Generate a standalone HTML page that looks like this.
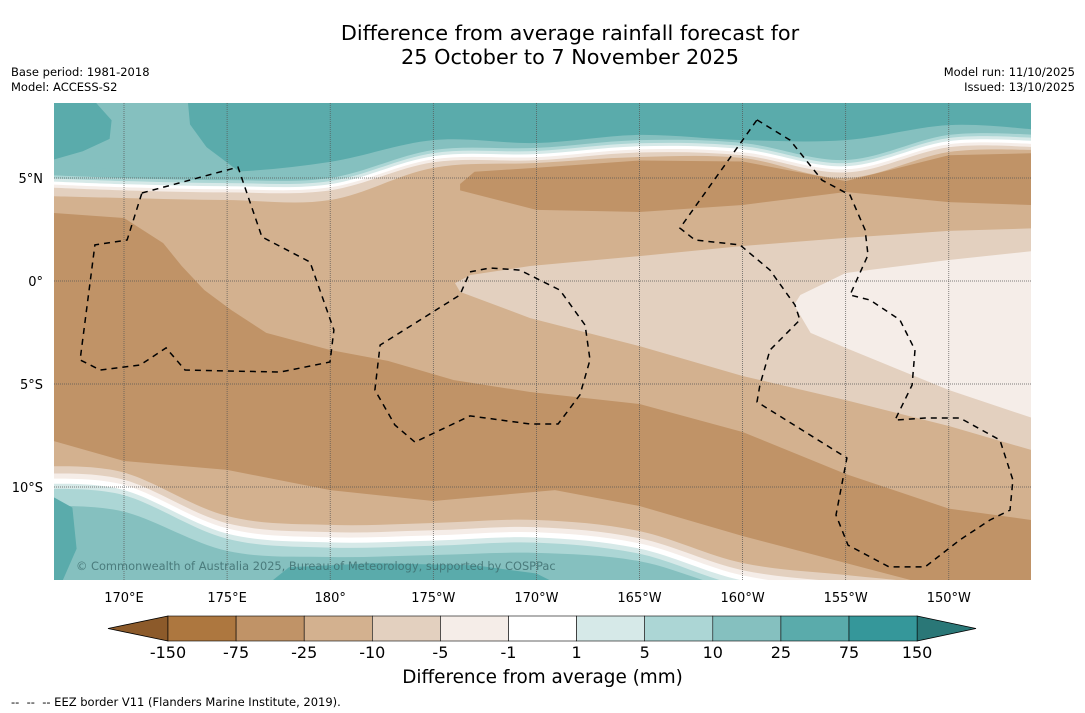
<!DOCTYPE html>
<html><head><meta charset="utf-8">
<style>
html,body{margin:0;padding:0;background:#fff;width:1085px;height:713px;overflow:hidden;font-family:"DejaVu Sans","Liberation Sans",sans-serif;}
.t{position:absolute;white-space:nowrap;color:#000;}
</style></head><body>
<div class="t" style="left:0;width:1140px;top:21px;text-align:center;font-size:20.8px;line-height:24px;">Difference from average rainfall forecast for<br>25 October to 7 November 2025</div>
<div class="t" style="left:11px;top:65px;font-size:11.5px;line-height:15px;">Base period: 1981-2018<br>Model: ACCESS-S2</div>
<div class="t" style="right:10px;top:65px;font-size:11.5px;line-height:15px;text-align:right;">Model run: 11/10/2025<br>Issued: 13/10/2025</div>
<svg id="map" style="position:absolute;left:0;top:0" width="1085" height="713" xmlns="http://www.w3.org/2000/svg"></svg>
<div class="t" style="left:0;width:1085px;top:667px;text-align:center;font-size:18.4px;">Difference from average (mm)</div>
<div class="t" style="left:11px;top:695px;font-size:11.5px;">-- &nbsp;-- &nbsp;-- EEZ border V11 (Flanders Marine Institute, 2019).</div>
<script>
// ---- data ----
const lonSamples=[166.6,170,175,180,185,190,195,200,205,210,214];
// northern contour boundaries (lat at each lon sample)
const n1=[5.87,5.39,5.29,5.78,6.84,6.70,7.09,6.84,6.84,7.57,7.33];
const n2=[5.15,5.00,4.90,5.00,6.36,6.46,6.84,6.70,5.87,7.09,7.09];
const n3=[5.00,4.85,4.75,4.85,6.21,6.31,6.69,6.55,5.72,6.94,6.94];
const n4=[4.85,4.70,4.60,4.70,6.06,6.16,6.54,6.40,5.57,6.79,6.79];
const n5=[4.70,4.55,4.45,4.55,5.91,6.01,6.39,6.25,5.42,6.64,6.64];
const n6=[4.55,4.40,4.30,4.40,5.76,5.86,6.24,6.10,5.27,6.49,6.49];
const n7=[4.13,4.03,3.93,3.93,5.49,5.73,6.02,5.97,5.00,6.26,6.36];
// southern contour boundaries
const s0=[-8.98,-9.30,-11.41,-11.84,-11.75,-11.60,-12.14,-13.69,-14.27,-14.7,-14.7];
const s1=[-9.33,-9.65,-11.76,-12.19,-12.10,-11.95,-12.49,-14.04,-14.62,-14.9,-14.9];
const s2=[-9.58,-9.90,-12.01,-12.44,-12.35,-12.20,-12.74,-14.29,-14.87,-15,-15];
const s3=[-9.83,-10.15,-12.26,-12.69,-12.60,-12.45,-12.99,-14.54,-15,-15,-15];
const s4=[-10.08,-10.40,-12.51,-12.94,-12.85,-12.70,-13.24,-14.79,-15,-15,-15];
const s5=[-10.9,-11.2,-13.1,-13.4,-13.3,-13.2,-13.6,-15,-15,-15,-15];
const s6=[-15,-15,-15,-15,-15,-15,-15,-15,-15,-15,-15];
// patches [lon,lat]
const patchTopLeftLight=[[168.6,8.7],[173.1,8.7],[173.2,7.6],[174,6.5],[176,5.0],[166.6,5.0],[166.6,5.9],[168,6.3],[169.3,6.9],[169.4,7.8]];
const patchNorthDry=[[186.3,4.71],[187,5.3],[190,5.5],[195,5.85],[200,5.8],[205,4.85],[210,6.1],[214,6.2],[214,3.69],[210,3.83],[205,4.32],[200,3.69],[195,3.35],[190,3.45],[186.3,4.4]];
const patchMainDry=[[166.6,3.30],[170,3.06],[171.9,1.84],[172.8,0.73],[173.9,-0.44],[175.2,-1.41],[176.9,-2.52],[180,-3.35],[182.8,-3.88],[186,-4.81],[189.7,-5.39],[195,-5.97],[200,-7.33],[205,-9.37],[210,-11.05],[214,-11.6],[214,-15],[210,-15],[205,-13.69],[200,-12.38],[195,-10.92],[190.9,-10.15],[185,-10.68],[180,-10.15],[175,-9.17],[170,-8.74],[166.6,-7.77]];
const patchMid10=[[186.05,-0.1],[186.8,0.29],[189.7,0.73],[195,1.21],[200,1.70],[205,2.09],[210,2.43],[214.5,2.57],[214.5,-8.35],[210,-7.04],[205,-5.78],[200,-4.61],[195,-3.16],[189.7,-1.80],[186.3,-0.53]];
const patchMid5=[[202.5,-1.16],[202.8,-0.68],[205,0.39],[210,1.02],[214.5,1.50],[214.5,-6.80],[210,-5.29],[205,-3.25],[203.3,-2.52]];
const patchSW25=[[166.6,-10.5],[167.5,-11],[167.7,-13],[167,-14.6],[166.6,-14.6]];
const patchS25=[[177,-14.7],[178,-13.9],[182,-13.7],[187,-13.8],[190,-14.2],[191,-14.7]];
const eezTuvalu=[[170.87,4.27],[175.53,5.53],[176.69,2.14],[179.02,0.92],[180.18,-2.38],[179.99,-3.93],[177.57,-4.42],[172.96,-4.32],[172.04,-3.25],[170.78,-4.08],[168.84,-4.32],[167.87,-3.83],[168.59,1.75],[170.15,1.99],[170.87,4.27]];
const eezPhoenix=[[186.78,0.44],[187.75,0.63],[189.2,0.53],[191.14,-0.44],[192.36,-2.14],[192.6,-3.83],[192.11,-5.53],[191.05,-6.94],[189.69,-6.94],[186.78,-6.55],[184.11,-7.82],[183.14,-6.99],[182.17,-5.29],[182.42,-3.11],[186.29,-0.68],[186.78,0.44]];
const eezLine=[[200.70,7.82],[202.30,6.84],[203.85,4.90],[205.21,4.17],[205.94,2.48],[206.08,1.26],[205.21,-0.68],[206.18,-0.92],[207.63,-1.89],[208.36,-3.35],[208.22,-5.05],[207.39,-6.75],[208.85,-6.65],[210.54,-6.65],[212.48,-7.72],[213.11,-9.66],[212.97,-11.12],[212.0,-11.60],[210.54,-12.57],[208.85,-13.88],[207.1,-13.88],[205.11,-12.82],[204.53,-11.36],[205.06,-8.59],[200.70,-5.87],[200.84,-5.05],[201.33,-3.35],[202.78,-1.89],[202.54,-1.17],[201.33,0.53],[199.87,1.75],[197.69,1.99],[196.96,2.57],[200.70,7.82]];
const lonTicks=[170,175,180,185,190,195,200,205,210];
const lonLabels=["170°E","175°E","180°","175°W","170°W","165°W","160°W","155°W","150°W"];
const latTicks=[5,0,-5,-10];
const latLabels=["5°N","0°","5°S","10°S"];
const cbLevels=["-150","-75","-25","-10","-5","-1","1","5","10","25","75","150"];
const cbColors=["#ad773f","#c09367","#d3b18f","#e3d0bf","#f5ede8","#ffffff","#d6e9e8","#acd6d5","#85c0bf","#5aabab","#35979a"];
// ---- axes ----
const X0=54,X1=1031,Y0=103,Y1=580;
const xs=lon=>124+(lon-170)*20.62;
const ys=lat=>281-lat*20.6;
const svg=document.getElementById('map');
const NS='http://www.w3.org/2000/svg';
function mk(tag,attrs){const e=document.createElementNS(NS,tag);for(const k in attrs)e.setAttribute(k,attrs[k]);return e;}
const defs=mk('defs',{});const cp=mk('clipPath',{id:'clip'});cp.appendChild(mk('rect',{x:X0,y:Y0,width:X1-X0,height:Y1-Y0}));defs.appendChild(cp);svg.appendChild(defs);
const g=mk('g',{'clip-path':'url(#clip)'});svg.appendChild(g);
const bg=mk('rect',{x:X0,y:Y0,width:X1-X0,height:Y1-Y0,fill:'#5aabab'});


g.appendChild(bg);
function poly(pts,fill,name){const p=mk('polygon',{points:pts.map(q=>xs(q[0]).toFixed(1)+','+ys(q[1]).toFixed(1)).join(' '),fill:fill});


g.appendChild(p);}
// Catmull-Rom smooth segment string through pixel points (excluding initial move)
function smooth(P){let d='';for(let i=0;i<P.length-1;i++){const p0=P[Math.max(i-1,0)],p1=P[i],p2=P[i+1],p3=P[Math.min(i+2,P.length-1)];
const c1=[p1[0]+(p2[0]-p0[0])/6,p1[1]+(p2[1]-p0[1])/6],c2=[p2[0]-(p3[0]-p1[0])/6,p2[1]-(p3[1]-p1[1])/6];
d+=` C${c1[0].toFixed(1)},${c1[1].toFixed(1)} ${c2[0].toFixed(1)},${c2[1].toFixed(1)} ${p2[0].toFixed(1)},${p2[1].toFixed(1)}`;}return d;}
function band(top,bot,fill,name){const L=lonSamples.slice();L[0]=166.0;L[L.length-1]=214.5;
const T=L.map((l,i)=>[xs(l),ys(top[i])]);const B=L.map((l,i)=>[xs(l),ys(bot[i])]).reverse();
const d=`M${T[0][0]},${T[0][1]}`+smooth(T)+` L${B[0][0]},${B[0][1]}`+smooth(B)+' Z';
const p=mk('path',{d:d,fill:fill});


g.appendChild(p);}
poly(patchTopLeftLight,'#85c0bf','patch-10-25-northwest');
band(n1,s6,'#85c0bf','band-10-25');
band(n2,s5,'#acd6d5','band-5-10');
band(n3,s4,'#d6e9e8','band-1-5');
band(n4,s3,'#ffffff','band-neutral');
band(n5,s2,'#f5ede8','band-minus5');
band(n6,s1,'#e3d0bf','band-minus10');
band(n7,s0,'#d3b18f','band-minus25');
poly(patchNorthDry,'#c09367','patch-minus75-north');
poly(patchMainDry,'#c09367','patch-minus75-main');
poly(patchMid10,'#e3d0bf','patch-minus10-central');
poly(patchMid5,'#f5ede8','patch-minus5-east');
poly(patchSW25,'#5aabab','patch-25-southwest');
poly(patchS25,'#5aabab','patch-25-south');
// grid
lonTicks.forEach((lon,i)=>{const l=mk('line',{x1:xs(lon),x2:xs(lon),y1:Y0,y2:Y1,stroke:'#555','stroke-width':0.7,'stroke-dasharray':'1,1'});


g.appendChild(l);
const t=mk('text',{x:xs(lon),y:602,'text-anchor':'middle','font-size':13,fill:'#000'});t.textContent=lonLabels[i];


svg.appendChild(t);});
latTicks.forEach((lat,i)=>{const l=mk('line',{x1:X0,x2:X1,y1:ys(lat),y2:ys(lat),stroke:'#555','stroke-width':0.7,'stroke-dasharray':'1,1'});


g.appendChild(l);
const t=mk('text',{x:43,y:ys(lat)+5,'text-anchor':'end','font-size':13,fill:'#000'});t.textContent=latLabels[i];


svg.appendChild(t);});
// EEZ
[[eezTuvalu,'eez-border-tuvalu'],[eezPhoenix,'eez-border-phoenix'],[eezLine,'eez-border-line-islands']].forEach(([pts,name])=>{
const p=mk('polyline',{points:pts.map(q=>xs(q[0]).toFixed(1)+','+ys(q[1]).toFixed(1)).join(' '),fill:'none',stroke:'#000','stroke-width':1.5,'stroke-dasharray':'6,5'});


g.appendChild(p);});
const cr=mk('text',{x:76,y:570,'font-size':11.4,fill:'#3f6f70','fill-opacity':0.85});cr.textContent='© Commonwealth of Australia 2025, Bureau of Meteorology, supported by COSPPac';


g.appendChild(cr);
// colorbar
const cbX0=168,cbW=68.1,cbY=616,cbH=25;
const lt=mk('polygon',{points:`108,${cbY+cbH/2} ${cbX0},${cbY} ${cbX0},${cbY+cbH}`,fill:'#8c5a2a',stroke:'#000','stroke-width':0.8});


svg.appendChild(lt);
const endX=cbX0+cbW*cbColors.length;
const rt=mk('polygon',{points:`${endX},${cbY} 976,${cbY+cbH/2} ${endX},${cbY+cbH}`,fill:'#2a7777',stroke:'#000','stroke-width':0.8});


svg.appendChild(rt);
cbColors.forEach((c,i)=>{const r=mk('rect',{x:cbX0+i*cbW,y:cbY,width:cbW,height:cbH,fill:c,stroke:'#000','stroke-width':0.6});


svg.appendChild(r);});
cbLevels.forEach((v,i)=>{const t=mk('text',{x:cbX0+i*cbW,y:658,'text-anchor':'middle','font-size':16,fill:'#000'});t.textContent=v;


svg.appendChild(t);});
</script>
</body></html>
